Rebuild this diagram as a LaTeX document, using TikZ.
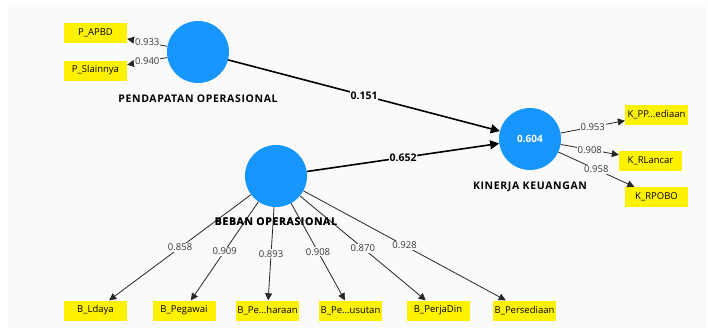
\documentclass[tikz,border=0pt]{standalone}
\usepackage{fontspec}
\setmainfont{Open Sans}
\newfontfamily\lvnamefont{Open Sans}[LetterSpace=6]
\usetikzlibrary{arrows.meta}
\definecolor{lvblue}{RGB}{24,150,255}
\definecolor{canvas}{RGB}{250,250,250}
\definecolor{numgray}{RGB}{55,55,55}

\begin{document}
\begin{tikzpicture}[x=1pt,y=-1pt,
    latent/.style={circle, fill=lvblue, minimum size=62pt, inner sep=0pt,
      text=white, font=\bfseries\fontsize{10}{12}\selectfont},
    indicator/.style={fill=yellow, minimum width=63pt, minimum height=20pt,
      inner sep=0pt, font=\fontsize{9.5}{11}\selectfont},
    lvname/.style={font=\lvnamefont\bfseries\fontsize{10.5}{12}\selectfont},
    outer/.style={draw=black!85, line width=0.8pt,
      -{Triangle[length=7pt,width=7pt]}},
    inner/.style={draw=black, line width=1.6pt,
      -{Triangle[length=9pt,width=9pt]}},
    load/.style={fill=canvas, inner sep=1pt, text=numgray,
      font=\fontsize{9.5}{11}\selectfont},
    pathcoef/.style={fill=canvas, inner sep=1pt,
      font=\bfseries\fontsize{10.5}{12}\selectfont}]
  % canvas
  \useasboundingbox (0,0) rectangle (708,332);
  \fill[canvas] (8,7) rectangle (707,328);

  % latent variables
  \node[latent] (pend) at (198,52) {};
  \node[latent] (kin) at (530,139) {0.604};
  \node[latent] (beban) at (276,176) {};
  \node[lvname] (pendname) at (198,99) {PENDAPATAN OPERASIONAL};
  \node[lvname] (kinname) at (530,187) {KINERJA KEUANGAN};
  \node[lvname] (bebanname) at (276,222) {BEBAN OPERASIONAL};

  % indicators
  \node[indicator] (papbd) at (95.5,33) {P\_APBD};
  \node[indicator] (pslain) at (95.5,70.5) {P\_Slainnya};
  \node[indicator] (kpp) at (656.5,114.5) {K\_PP...ediaan};
  \node[indicator] (krl) at (650.5,160.5) {K\_RLancar};
  \node[indicator] (krp) at (656.5,197) {K\_RPOBO};
  \node[indicator] (bldaya) at (95.5,310.5) {B\_Ldaya};
  \node[indicator] (bpeg) at (184,310.5) {B\_Pegawai};
  \node[indicator] (bphar) at (267.5,310.5) {B\_Pe...haraan};
  \node[indicator] (bpsus) at (350.5,310.5) {B\_Pe...usutan};
  \node[indicator] (bperja) at (438,310.5) {B\_PerjaDin};
  \node[indicator] (bpers) at (524.5,310.5) {B\_Persediaan};

  % outer loadings
  \draw[outer] (pend) -- node[load] {0.933} (papbd);
  \draw[outer] (pend) -- node[load] {0.940} (pslain);
  \draw[outer] (kin) -- node[load] {0.953} (kpp);
  \draw[outer] (kin) -- node[load] {0.908} (krl);
  \draw[outer] (kin) -- node[load] {0.958} (krp);
  \draw[outer] (beban) -- node[load] {0.858} (bldaya);
  \draw[outer] (beban) -- node[load] {0.909} (bpeg);
  \draw[outer] (beban) -- node[load] {0.893} (bphar);
  \draw[outer] (beban) -- node[load] {0.908} (bpsus);
  \draw[outer] (beban) -- node[load] {0.870} (bperja);
  \draw[outer] (beban) -- node[load] {0.928} (bpers);

  % path coefficients
  \draw[inner] (pend) -- node[pathcoef] {0.151} (kin);
  \draw[inner] (beban) -- node[pathcoef] {0.652} (kin);

  % the name sits on top of the loadings
  \node[lvname] at (bebanname) {BEBAN OPERASIONAL};
\end{tikzpicture}
\end{document}
